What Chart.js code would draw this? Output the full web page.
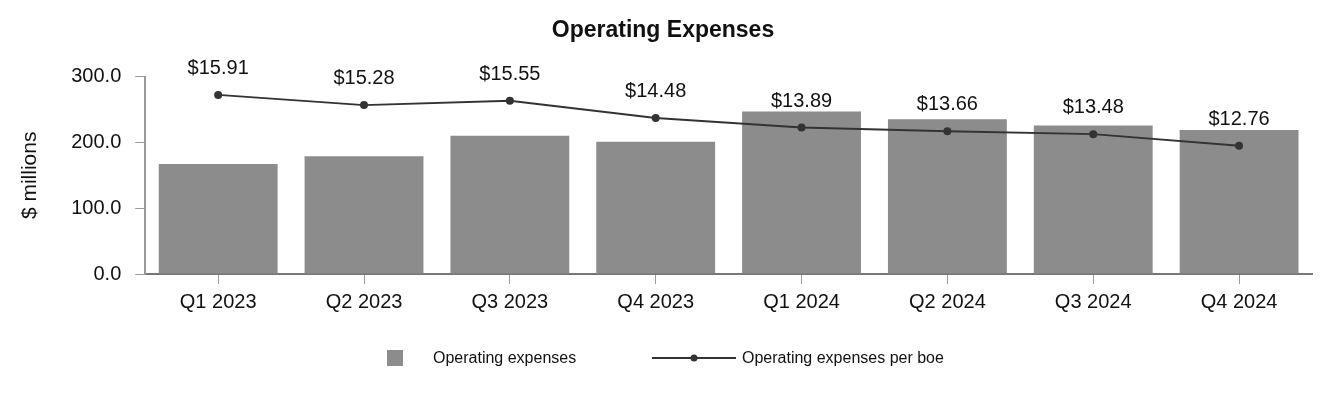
<!DOCTYPE html>
<html>
<head>
<meta charset="utf-8">
<script src="https://cdn.jsdelivr.net/npm/chart.js@4"></script>
<style>
html,body{margin:0;padding:0;background:#fff;}
#wrap{width:1332px;height:400px;position:relative;}
</style>
</head>
<body>
<div id="wrap"><canvas id="c" width="1332" height="400"></canvas></div>
<script>
const categories = ["Q1 2023","Q2 2023","Q3 2023","Q4 2023","Q1 2024","Q2 2024","Q3 2024","Q4 2024"];
const opexMillions = [167, 179, 210, 201, 247, 235, 225.5, 219];
const opexPerBoe = [15.91, 15.28, 15.55, 14.48, 13.89, 13.66, 13.48, 12.76];
const yTicks = [0, 100, 200, 300];
const seriesNames = ["Operating expenses", "Operating expenses per boe"];
const chartTitle = "Operating Expenses";
const yTitle = "$ millions";

const FONT = "'Liberation Sans', Arial, Helvetica, sans-serif";

const labelPlugin = {
  id: 'lineLabels',
  afterDatasetsDraw(chart) {
    const ctx = chart.ctx;
    const meta = chart.getDatasetMeta(1);
    ctx.save();
    ctx.font = "20px " + FONT;
    ctx.fillStyle = "#111";
    ctx.textAlign = "center";
    ctx.textBaseline = "alphabetic";
    meta.data.forEach((pt, i) => {
      ctx.fillText("$" + opexPerBoe[i].toFixed(2), pt.x, pt.y - 21);
    });
    ctx.restore();
  }
};

const legendPlugin = {
  id: 'customLegend',
  afterDraw(chart) {
    const ctx = chart.ctx;
    ctx.save();
    const y = 358;
    ctx.fillStyle = "#8c8c8c";
    ctx.fillRect(387, y - 8, 16, 16);
    ctx.font = "16px " + FONT;
    ctx.fillStyle = "#111";
    ctx.textBaseline = "middle";
    ctx.textAlign = "left";
    ctx.fillText(seriesNames[0], 433, y + 1);
    ctx.strokeStyle = "#333";
    ctx.lineWidth = 2;
    ctx.beginPath();
    ctx.moveTo(652, y);
    ctx.lineTo(736, y);
    ctx.stroke();
    ctx.fillStyle = "#333";
    ctx.beginPath();
    ctx.arc(694, y, 3.5, 0, Math.PI * 2);
    ctx.fill();
    ctx.fillStyle = "#111";
    ctx.fillText(seriesNames[1], 742, y + 1);
    ctx.restore();
  }
};

new Chart(document.getElementById('c'), {
  data: {
    labels: categories,
    datasets: [
      {
        type: 'bar',
        label: seriesNames[0],
        data: opexMillions,
        backgroundColor: '#8c8c8c',
        borderWidth: 0,
        categoryPercentage: 0.815,
        barPercentage: 1.0,
        yAxisID: 'y',
        order: 2
      },
      {
        type: 'line',
        label: seriesNames[1],
        data: opexPerBoe,
        borderColor: '#333',
        backgroundColor: '#333',
        borderWidth: 1.8,
        pointRadius: 4,
        pointBackgroundColor: '#333',
        pointBorderWidth: 0,
        tension: 0,
        yAxisID: 'y1',
        order: 1
      }
    ]
  },
  options: {
    responsive: false,
    animation: false,
    layout: { padding: { top: 0, right: 20, bottom: 80, left: 14 } },
    plugins: {
      legend: { display: false },
      tooltip: { enabled: false },
      title: {
        display: true,
        text: chartTitle,
        color: '#111',
        font: { family: FONT, size: 23, weight: 'bold' },
        padding: { top: 17, bottom: 32 }
      }
    },
    scales: {
      x: {
        grid: { display: true, drawOnChartArea: false, drawTicks: true, tickLength: 10, offset: false, color: '#999' },
        border: { display: true, color: '#777', width: 2 },
        ticks: { color: '#111', font: { family: FONT, size: 20 }, padding: 6, maxRotation: 0 }
      },
      y: {
        min: 0,
        max: 300,
        afterBuildTicks(axis) { axis.ticks = yTicks.map(v => ({ value: v })); },
        grid: { display: true, drawOnChartArea: false, drawTicks: true, tickLength: 10, color: '#999' },
        border: { display: true, color: '#999', width: 2 },
        ticks: { color: '#111', font: { family: FONT, size: 20 }, padding: 14, callback: v => Number(v).toFixed(1) },
        title: { display: true, text: yTitle, color: '#111', font: { family: FONT, size: 21 }, padding: { bottom: 14 } }
      },
      y1: {
        display: false,
        min: 4.8,
        max: 17.05
      }
    }
  },
  plugins: [labelPlugin, legendPlugin]
});
</script>
</body>
</html>
